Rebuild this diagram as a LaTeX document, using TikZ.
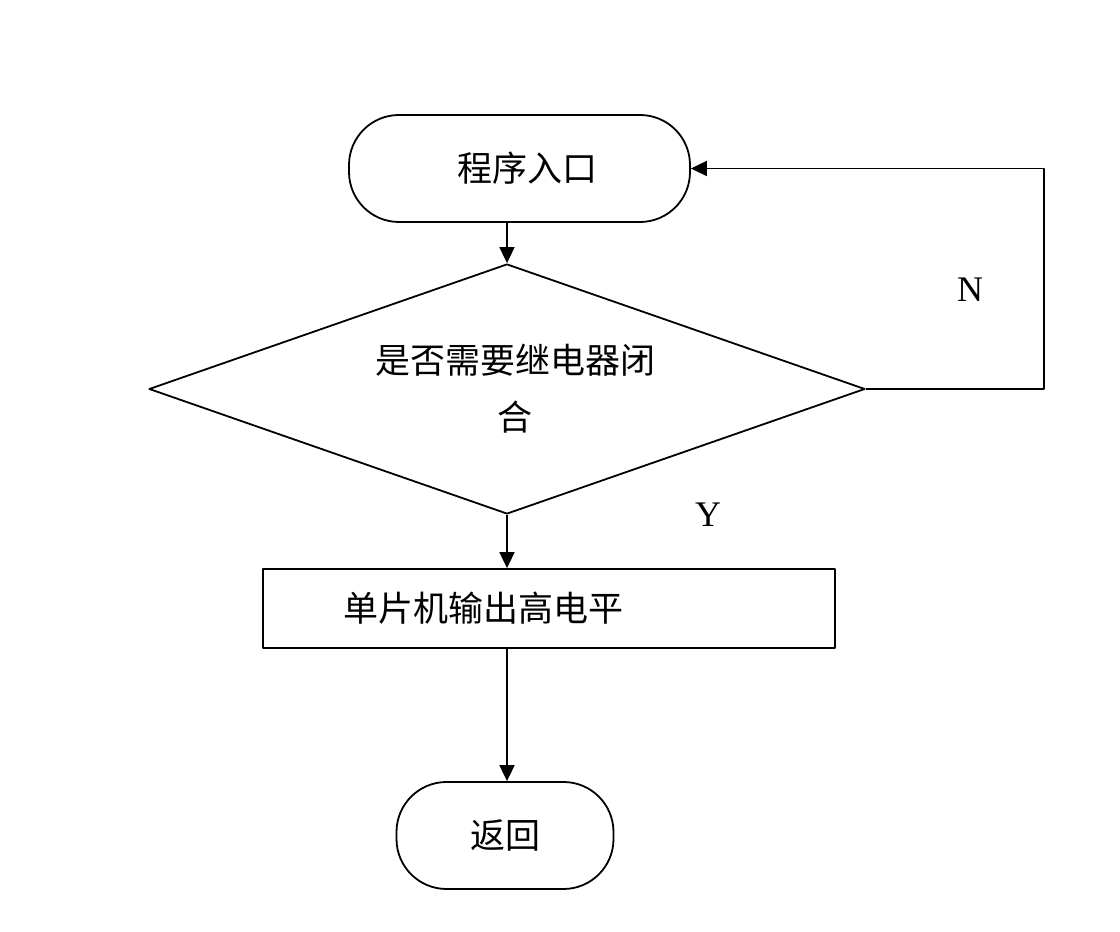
\documentclass[tikz,border=0pt]{standalone}
\usepackage{fontspec}
\setmainfont{Liberation Serif}
\newfontfamily\cjk{Noto Sans CJK SC}
\usetikzlibrary{shapes.geometric,arrows.meta}

\begin{document}
\begin{tikzpicture}[x=0.5pt, y=0.5pt, line width=0.9pt, line join=round,
  >={Triangle[length=8pt,width=7.5pt]},
  term/.style={draw, rounded corners=25pt, minimum width=#1, minimum height=53.5pt,
    inner sep=0pt, font=\cjk\fontsize{17.5}{21}\selectfont},
  decide/.style={draw, diamond, aspect=2.86, minimum width=358pt, minimum height=125pt,
    inner sep=0pt, align=center, font=\cjk\fontsize{17.5}{28.5}\selectfont},
  proc/.style={draw, rectangle, minimum height=39.5pt, inner xsep=40pt, text width=206pt,
    align=left, font=\cjk\fontsize{17.5}{21}\selectfont},
  lbl/.style={font=\fontsize{18}{21}\selectfont}]
\useasboundingbox (0,0) rectangle (1120,932);
\node[term=170.5pt] (start) at (519.5,763.5) {\hspace*{8pt}程序入口};
\node[decide] (dec) at (507,543) {\hspace*{8pt}是否需要继电器闭\\\hspace*{8pt}合};
\node[proc] (out) at (549,323.5) {单片机输出高电平};
\node[term=108.5pt] (ret) at (505,96.5) {返回};
\node[lbl] (n) at (970,642) {N};
\node[lbl] (y) at (708,417) {Y};
\coordinate (turn) at (1044,543);
\draw[->] (start.south -| dec.north) -- (dec.north);
\draw[->] (dec.south) -- (dec.south |- out.north);
\draw[->] (dec.south |- out.south) -- (dec.south |- ret.north);
\draw[->] (dec.east) -- (turn) |- (start.east);
\end{tikzpicture}
\end{document}
